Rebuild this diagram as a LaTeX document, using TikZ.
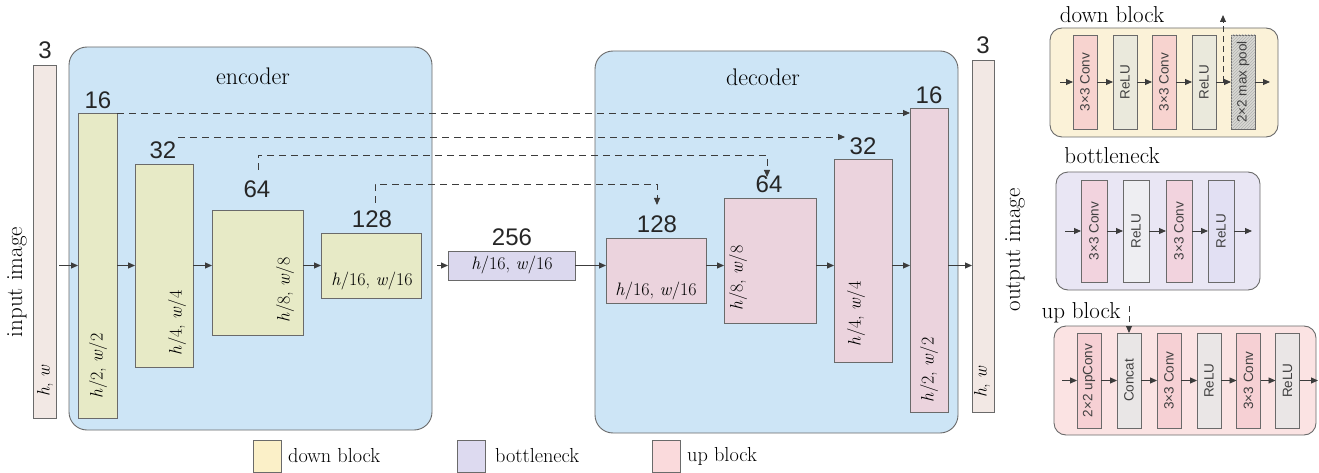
\documentclass[tikz,border=0pt]{standalone}
\usepackage{fontspec}
\newfontfamily\sansnum{Liberation Sans}
\usetikzlibrary{arrows.meta,patterns}
\newcommand{\hv}{\textit{h}}
\newcommand{\wv}{\textit{w}}
\definecolor{contc}{HTML}{CDE5F6}
\definecolor{bordc}{HTML}{6A6A6A}
\definecolor{linec}{HTML}{3C3C3C}
\definecolor{downc}{HTML}{E7EAC6}
\definecolor{upc}{HTML}{EBD3DD}
\definecolor{bnc}{HTML}{DBD8EE}
\definecolor{barc}{HTML}{F2E8E4}
\definecolor{dbg}{HTML}{FBF2D8}
\definecolor{convc}{HTML}{F7D3CF}
\definecolor{reluc}{HTML}{EAE9DC}
\definecolor{mpc}{HTML}{D9D9D3}
\definecolor{bbg}{HTML}{E9E6F4}
\definecolor{bconv}{HTML}{F2D3DE}
\definecolor{breluA}{HTML}{EEEEF2}
\definecolor{breluB}{HTML}{E2E0F3}
\definecolor{ubg}{HTML}{FBE3E3}
\definecolor{uconv}{HTML}{F6D0D4}
\definecolor{concatc}{HTML}{E9E6E6}
\definecolor{urelu}{HTML}{EAE6E6}
\definecolor{ldown}{HTML}{FBF0C8}
\definecolor{lbn}{HTML}{DDDAF0}
\definecolor{lup}{HTML}{FADADC}
\begin{document}
\begin{tikzpicture}[x=1pt,y=-1pt,
  box/.style={draw=bordc, line width=0.9pt, inner sep=0pt, outer sep=0pt},
  cont/.style={box, fill=contc, rounded corners=18pt},
  panel/.style={box, rounded corners=12pt},
  num/.style={font=\sansnum\fontsize{24}{26}\selectfont, inner sep=0pt, text=black!85},
  lbl/.style={font=\fontsize{24}{27}\selectfont, inner sep=0pt},
  ttl/.style={font=\fontsize{23}{26}\selectfont, inner sep=0pt},
  lgt/.style={font=\fontsize{20.3}{23}\selectfont, inner sep=0pt},
  mlbl/.style={font=\fontsize{18}{20}\selectfont, inner sep=0pt},
  rlbl/.style={mlbl, rotate=90},
  sbox/.style={box, rotate=90, font=\sansnum\fontsize{13.5}{15}\selectfont, text=black!75},
  arr/.style={-{Triangle[length=7pt,width=6pt]}, draw=linec, line width=0.9pt},
  dsh/.style={arr, dash pattern=on 7pt off 5pt},
]
\useasboundingbox (0,0) rectangle (1319,473);

% containers
\node[cont, minimum width=363pt, minimum height=383pt] (enc) at (250.5,238.5) {};
\node[cont, minimum width=363pt, minimum height=382pt] (dec) at (776.5,242) {};
\node[lbl] (tenc) at (253,76) {encoder};
\node[lbl] (tdec) at (763,77) {decoder};

% input / output bars
\node[box, fill=barc, minimum width=23pt, minimum height=353pt] (in) at (44.5,241.5) {};
\node[box, fill=barc, minimum width=22pt, minimum height=352pt] (out) at (983,236) {};
\node[num] (nin) at (45,50) {3};
\node[num] (nout) at (983,45) {3};
\node[rlbl] (iin) at (45,381) {\hv, \wv};
\node[rlbl] (iout) at (982,382) {\hv, \wv};
\node[ttl, rotate=90] (tin) at (17,282) {input image};
\node[ttl, rotate=90] (tout) at (1015,250) {output image};

% encoder blocks
\node[box, fill=downc, minimum width=39pt, minimum height=305pt] (e1) at (97.5,265.5) {};
\node[box, fill=downc, minimum width=58pt, minimum height=203pt] (e2) at (164,265.5) {};
\node[box, fill=downc, minimum width=91pt, minimum height=125pt] (e3) at (257.5,272.5) {};
\node[box, fill=downc, minimum width=100pt, minimum height=65pt] (e4) at (371,265.5) {};
\node[num] (ne1) at (98,100) {16};
\node[num] (ne2) at (163,150) {32};
\node[num] (ne3) at (257,189) {64};
\node[num] (ne4) at (372,219) {128};
\node[rlbl] (ie1) at (98,366) {\hv/2, \wv/2};
\node[rlbl] (ie2) at (177,323) {\hv/4, \wv/4};
\node[rlbl] (ie3) at (285,290) {\hv/8, \wv/8};
\node[mlbl] (ie4) at (372,281) {\hv/16, \wv/16};

% bottleneck
\node[box, fill=bnc, minimum width=127pt, minimum height=29pt] (bn) at (511.5,265.5) {};
\node[mlbl] (ibn) at (512,265) {\hv/16, \wv/16};
\node[num] (nbn) at (512,237) {256};

% decoder blocks
\node[box, fill=upc, minimum width=100pt, minimum height=65pt] (d4) at (656,270.5) {};
\node[box, fill=upc, minimum width=92pt, minimum height=125pt] (d3) at (770,260.5) {};
\node[box, fill=upc, minimum width=58pt, minimum height=203pt] (d2) at (863,260.5) {};
\node[box, fill=upc, minimum width=38pt, minimum height=304pt] (d1) at (929,260) {};
\node[num] (nd4) at (657,224) {128};
\node[num] (nd3) at (769,184) {64};
\node[num] (nd2) at (863,146) {32};
\node[num] (nd1) at (929,95) {16};
\node[mlbl] (id4) at (656,291) {\hv/16, \wv/16};
\node[rlbl] (id3) at (738,278) {\hv/8, \wv/8};
\node[rlbl] (id2) at (856,314) {\hv/4, \wv/4};
\node[rlbl] (id1) at (929,370) {\hv/2, \wv/2};

% main flow arrows
\coordinate (a0) at (59,265.5);
\coordinate (a1) at (437,265.5);
\draw[arr] (a0) -- (e1.west);
\draw[arr] (e1.east) -- (e2.west);
\draw[arr] (e2.east) -- (e3.west |- e2.east);
\draw[arr] (e3.east |- e4.west) -- (e4.west);
\draw[arr] (a1) -- (bn.west);
\draw[arr] (bn.east) -- (d4.west |- bn.east);
\draw[arr] (d4.east |- bn.east) -- (d3.west |- bn.east);
\draw[arr] (d3.east |- bn.east) -- (d2.west |- bn.east);
\draw[arr] (d2.east |- bn.east) -- (d1.west |- bn.east);
\draw[arr] (d1.east |- bn.east) -- (out.west |- bn.east);

% skip connections
\coordinate (s2) at (178,137);
\coordinate (t2) at (845,137);
\coordinate (s3) at (258,170);
\coordinate (t3) at (767,177);
\coordinate (s4) at (375,203);
\coordinate (t4) at (657,205);
\draw[dsh] (e1.north east) -- (d1.west |- e1.north east);
\draw[dsh] (s2) -- (t2);
\draw[dsh] (s3) -- ++(0,-15) -| (t3);
\draw[dsh] (s4) -- ++(0,-19) -| (t4);

% legend
\node[box, fill=ldown, minimum width=28pt, minimum height=32pt] (lg1) at (267.5,456) {};
\node[box, fill=lbn, minimum width=28pt, minimum height=32pt] (lg2) at (471,456) {};
\node[box, fill=lup, minimum width=28pt, minimum height=32pt] (lg3) at (666,456) {};
\node[lgt, anchor=west] (lt1) at (288,456) {down block};
\node[lgt, anchor=west] (lt2) at (495,456) {bottleneck};
\node[lgt, anchor=west] (lt3) at (687,456) {up block};

% ---- right panel: down block
\node[panel, fill=dbg, minimum width=228pt, minimum height=109pt] (pd) at (1164,82.5) {};
\node[ttl] (tpd) at (1112,15) {down block};
\node[sbox, fill=convc, minimum width=94pt, minimum height=24pt] (dc1) at (1085,82) {3×3 Conv};
\node[sbox, fill=reluc, minimum width=94pt, minimum height=24pt] (dr1) at (1125,82) {ReLU};
\node[sbox, fill=convc, minimum width=94pt, minimum height=24pt] (dc2) at (1164,82) {3×3 Conv};
\node[sbox, fill=reluc, minimum width=94pt, minimum height=24pt] (dr2) at (1204,82) {ReLU};
\node[sbox, fill=mpc, postaction={pattern=north east lines, pattern color=gray!60}, minimum width=94pt, minimum height=24pt] (dmp) at (1243,82) {2×2 max pool};
\coordinate (pdi) at (1060,82);
\coordinate (pdo) at (1270,82);
\coordinate (pdu) at (1223,15);
\coordinate (pdb) at (1223,82);
\draw[arr] (pdi) -- (dc1.north);
\draw[arr] (dc1.south) -- (dr1.north);
\draw[arr] (dr1.south) -- (dc2.north);
\draw[arr] (dc2.south) -- (dr2.north);
\draw[arr] (dr2.south) -- (dmp.north);
\draw[arr] (dmp.south) -- (pdo);
\draw[dsh, dash pattern=on 6pt off 4pt] (pdb) -- (pdu);

% ---- right panel: bottleneck
\node[panel, fill=bbg, minimum width=204pt, minimum height=118pt] (pb) at (1158,231) {};
\node[ttl] (tpb) at (1112,156) {bottleneck};
\node[sbox, fill=bconv, minimum width=102pt, minimum height=26pt] (bc1) at (1094,231) {3×3 Conv};
\node[sbox, fill=breluA, minimum width=102pt, minimum height=26pt] (br1) at (1136,231) {ReLU};
\node[sbox, fill=bconv, minimum width=102pt, minimum height=26pt] (bc2) at (1179,231) {3×3 Conv};
\node[sbox, fill=breluB, minimum width=102pt, minimum height=26pt] (br2) at (1221,231) {ReLU};
\coordinate (pbi) at (1065,231);
\coordinate (pbo) at (1252,231);
\draw[arr] (pbi) -- (bc1.north);
\draw[arr] (bc1.south) -- (br1.north);
\draw[arr] (br1.south) -- (bc2.north);
\draw[arr] (bc2.south) -- (br2.north);
\draw[arr] (br2.south) -- (pbo);

% ---- right panel: up block
\node[panel, fill=ubg, minimum width=262pt, minimum height=109pt] (pu) at (1185,380.5) {};
\node[ttl] (tpu) at (1081,313) {up block};
\node[sbox, fill=uconv, minimum width=95pt, minimum height=24pt] (uu) at (1089,380.5) {2×2 upConv};
\node[sbox, fill=concatc, minimum width=95pt, minimum height=24pt] (uk) at (1129,380.5) {Concat};
\node[sbox, fill=uconv, minimum width=95pt, minimum height=24pt] (uc1) at (1169,380.5) {3×3 Conv};
\node[sbox, fill=urelu, minimum width=95pt, minimum height=24pt] (ur1) at (1209,380.5) {ReLU};
\node[sbox, fill=uconv, minimum width=95pt, minimum height=24pt] (uc2) at (1248.5,380.5) {3×3 Conv};
\node[sbox, fill=urelu, minimum width=95pt, minimum height=24pt] (ur2) at (1287.5,380.5) {ReLU};
\coordinate (pui) at (1062,380.5);
\coordinate (puo) at (1318,380.5);
\coordinate (puk) at (1129,306);
\draw[arr] (pui) -- (uu.north);
\draw[arr] (uu.south) -- (uk.north);
\draw[arr] (uk.south) -- (uc1.north);
\draw[arr] (uc1.south) -- (ur1.north);
\draw[arr] (ur1.south) -- (uc2.north);
\draw[arr] (uc2.south) -- (ur2.north);
\draw[arr] (ur2.south) -- (puo);
\draw[dsh, dash pattern=on 6pt off 4pt] (puk) -- (uk.east);
\end{tikzpicture}
\end{document}
